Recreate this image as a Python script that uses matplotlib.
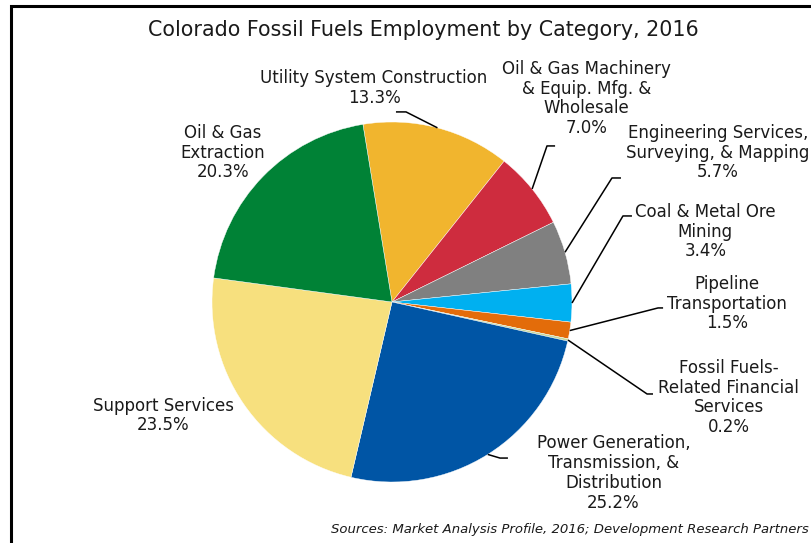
import numpy as np
import matplotlib.pyplot as plt
from matplotlib.patches import Rectangle

# Employment shares (%) by category, clockwise from the top
categories = ['Utility System Construction', 'Oil & Gas Machinery\n& Equip. Mfg. &\nWholesale',
              'Engineering Services,\nSurveying, & Mapping', 'Coal & Metal Ore\nMining',
              'Pipeline\nTransportation', 'Fossil Fuels-\nRelated Financial\nServices',
              'Power Generation,\nTransmission, &\nDistribution', 'Support Services',
              'Oil & Gas\nExtraction']
shares = [13.3, 7.0, 5.7, 3.4, 1.5, 0.2, 25.2, 23.5, 20.3]
colors = ['#F1B52E', '#CE2C3E', '#808080', '#00B0F0', '#E36C0A',
          '#C4D79B', '#0055A5', '#F7E07E', '#008236']

# label centres and leader elbows (data units, pie radius = 1)
label_pos = [(-0.10, 1.19), (1.08, 1.13), (1.81, 0.83), (1.74, 0.39), (1.86, -0.01),
             (1.87, -0.53), (1.23, -0.95), (-1.27, -0.63), (-0.94, 0.83)]
elbows = [((0.078, 1.056), (0.022, 1.056)),
          ((0.861, 0.867), (0.906, 0.867)),
          ((1.222, 0.689), (1.272, 0.689)),
          ((1.283, 0.478), (1.333, 0.478)),
          ((1.478, -0.033), (1.506, -0.033)),
          ((1.417, -0.511), (1.450, -0.511)),
          ((0.600, -0.867), (0.644, -0.867)),
          None, None]

W, H = 811, 543
fig = plt.figure(figsize=(W / 100, H / 100), dpi=100)
ax = fig.add_axes([0, 0, 1, 1])
cx, cy, R = 392, 302, 180

wedges, _ = ax.pie(shares, colors=colors, startangle=99.3, counterclock=False,
                   radius=1, center=(0, 0), frame=True,
                   wedgeprops=dict(edgecolor='white', linewidth=0.3))
ax.set_xlim(-cx / R, (W - cx) / R)
ax.set_ylim(-(H - cy) / R, cy / R)
ax.set_aspect('auto')
ax.axis('off')

for w, name, val, pos, elb in zip(wedges, categories, shares, label_pos, elbows):
    ax.text(pos[0], pos[1], f'{name}\n{val:.1f}%', ha='center', va='center',
            fontsize=12, color='#1a1a1a', linespacing=1.12)
    if elb is None:
        continue
    mid = np.deg2rad((w.theta1 + w.theta2) / 2)
    x0, y0 = np.cos(mid), np.sin(mid)
    ax.plot([x0, elb[0][0], elb[1][0]], [y0, elb[0][1], elb[1][1]],
            color='black', lw=1.1, solid_capstyle='butt')

fig.text(423 / W, 1 - 30 / H, 'Colorado Fossil Fuels Employment by Category, 2016',
         ha='center', va='center', fontsize=14.9, color='#1a1a1a')
fig.text(809 / W, 1 - 530 / H,
         'Sources: Market Analysis Profile, 2016; Development Research Partners',
         ha='right', va='center', fontsize=9.5, style='italic', color='#1a1a1a')

# chart border
fig.patches.append(Rectangle((11 / W, -0.1), 1.2, 1 - 6 / H + 0.1,
                             transform=fig.transFigure, fill=False,
                             edgecolor='black', linewidth=2.2))

fig.savefig('out.png', dpi=100)
